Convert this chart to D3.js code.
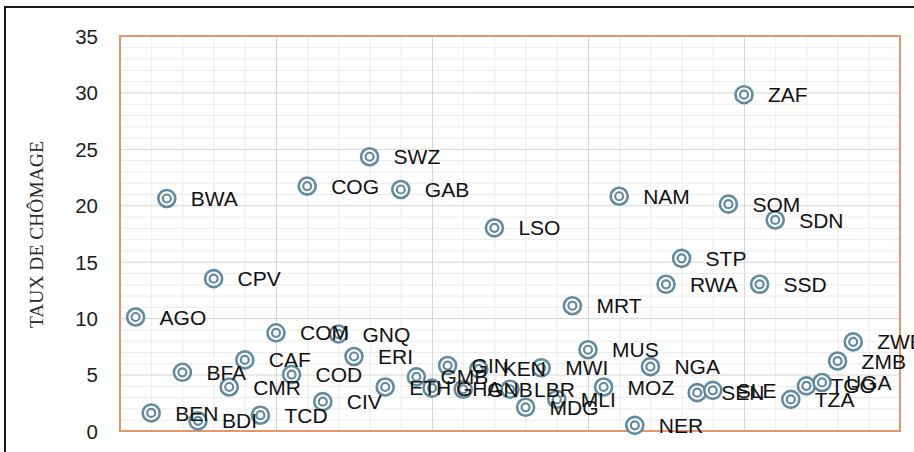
<!DOCTYPE html>
<html>
<head>
<meta charset="utf-8">
<script src="https://cdn.jsdelivr.net/npm/d3@7"></script>
<style>
  html, body { margin: 0; padding: 0; background: #fff; overflow: hidden; }
  svg { display: block; }
  .tick-lbl text { font-family: "Liberation Sans", Arial, sans-serif; font-size: 20.5px; fill: #1e1e1e; }
  .pt-lbl { font-family: "Liberation Sans", Arial, sans-serif; font-size: 21px; fill: #111; }
  .y-title { font-family: "Liberation Serif", "Times New Roman", serif; font-size: 19.5px; fill: #2a2a2a; }
</style>
</head>
<body>
<div class="chart"></div>
<script>
(function() {

    // pays dans l'ordre de l'axe horizontal (1..47)
    var countries = ['AGO', 'BEN', 'BWA', 'BFA', 'BDI', 'CPV', 'CMR', 'CAF', 'TCD', 'COM',
                     'COD', 'COG', 'CIV', 'GNQ', 'ERI', 'SWZ', 'ETH', 'GAB', 'GMB', 'GHA',
                     'GIN', 'GNB', 'KEN', 'LSO', 'LBR', 'MDG', 'MWI', 'MLI', 'MRT', 'MUS',
                     'MOZ', 'NAM', 'NER', 'NGA', 'RWA', 'STP', 'SEN', 'SLE', 'SOM', 'ZAF',
                     'SSD', 'SDN', 'TZA', 'TGO', 'UGA', 'ZMB', 'ZWE'];

    // taux de chomage (%)
    var unemployment = [10.1, 1.6, 20.6, 5.2, 0.9, 13.5, 3.9, 6.3, 1.4, 8.7,
                        5.0, 21.7, 2.6, 8.6, 6.6, 24.3, 3.9, 21.4, 4.8, 3.8,
                        5.8, 3.7, 5.5, 18.0, 3.7, 2.1, 5.6, 2.8, 11.1, 7.2,
                        3.9, 20.8, 0.5, 5.7, 13.0, 15.3, 3.4, 3.6, 20.1, 29.8,
                        13.0, 18.7, 2.8, 4.0, 4.3, 6.2, 7.9];

    var yTicks = [0, 5, 10, 15, 20, 25, 30, 35];
    var yTitle = 'TAUX DE CHÔMAGE';

    var W = 914, H = 452;
    var m = { left: 120, right: 14, top: 36, bottom: 21 };

    var data = countries.map(function(c, i) {
        return { code: c, idx: i + 1, val: unemployment[i] };
    });

    var svg = d3.select('.chart')
        .append('svg')
        .attr('width', W)
        .attr('height', H);

    var x = d3.scaleLinear().domain([0, 50]).range([m.left, W - m.right]);
    var y = d3.scaleLinear().domain([0, 35]).range([H - m.bottom, m.top]);

    // cadre noir exterieur
    svg.append('rect')
        .attr('x', 5).attr('y', 7)
        .attr('width', W + 10).attr('height', H + 10)
        .attr('fill', 'none')
        .attr('stroke', '#1a1a1a')
        .attr('stroke-width', 2);

    // grille secondaire
    var g = svg.append('g');
    g.selectAll('.minor-h')
        .data(d3.range(1, 35).filter(function(v) { return v % 5 !== 0; }))
        .enter().append('line')
        .attr('x1', x(0)).attr('x2', x(50))
        .attr('y1', function(d) { return y(d) + 0.5; })
        .attr('y2', function(d) { return y(d) + 0.5; })
        .attr('stroke', '#ececec');
    g.selectAll('.minor-v')
        .data(d3.range(2, 50, 2).filter(function(v) { return v % 10 !== 0; }))
        .enter().append('line')
        .attr('y1', y(0)).attr('y2', y(35))
        .attr('x1', function(d) { return x(d) + 0.5; })
        .attr('x2', function(d) { return x(d) + 0.5; })
        .attr('stroke', '#ececec');

    // grille principale
    g.selectAll('.major-h')
        .data(yTicks.slice(1, -1))
        .enter().append('line')
        .attr('x1', x(0)).attr('x2', x(50))
        .attr('y1', function(d) { return y(d) + 0.5; })
        .attr('y2', function(d) { return y(d) + 0.5; })
        .attr('stroke', '#d6d6d6');
    g.selectAll('.major-v')
        .data([10, 20, 30, 40])
        .enter().append('line')
        .attr('y1', y(0)).attr('y2', y(35))
        .attr('x1', function(d) { return x(d) + 0.5; })
        .attr('x2', function(d) { return x(d) + 0.5; })
        .attr('stroke', '#d6d6d6');

    // bordure orange de la zone de tracé
    svg.append('rect')
        .attr('x', x(0)).attr('y', y(35))
        .attr('width', x(50) - x(0))
        .attr('height', y(0) - y(35))
        .attr('fill', 'none')
        .attr('stroke', '#e8946b')
        .attr('stroke-width', 2);

    // axe des ordonnées (étiquettes seulement)
    var yAxis = svg.append('g')
        .attr('class', 'tick-lbl')
        .attr('transform', 'translate(' + (m.left - 22) + ',0)')
        .call(d3.axisLeft(y).tickValues(yTicks).tickSize(0).tickPadding(0));
    yAxis.select('.domain').remove();
    yAxis.selectAll('text').attr('dy', '0.36em');

    svg.append('text')
        .attr('class', 'y-title')
        .attr('transform', 'translate(43,' + y(17.4) + ') rotate(-90)')
        .attr('text-anchor', 'middle')
        .text(yTitle);

    // points
    var pts = svg.append('g').selectAll('g')
        .data(data)
        .enter().append('g')
        .attr('transform', function(d) {
            return 'translate(' + x(d.idx) + ',' + y(d.val) + ')';
        });

    pts.append('circle')
        .attr('r', 8.5)
        .attr('fill', '#fff')
        .attr('stroke', '#628aa0')
        .attr('stroke-width', 2.6);
    pts.append('circle')
        .attr('r', 4)
        .attr('fill', '#fff')
        .attr('stroke', '#628aa0')
        .attr('stroke-width', 2.2);

    svg.append('g').selectAll('text')
        .data(data)
        .enter().append('text')
        .attr('class', 'pt-lbl')
        .attr('x', function(d) { return x(d.idx) + 24; })
        .attr('y', function(d) { return y(d.val); })
        .attr('dy', '0.36em')
        .text(function(d) { return d.code; });

})()
</script>
</body>
</html>
